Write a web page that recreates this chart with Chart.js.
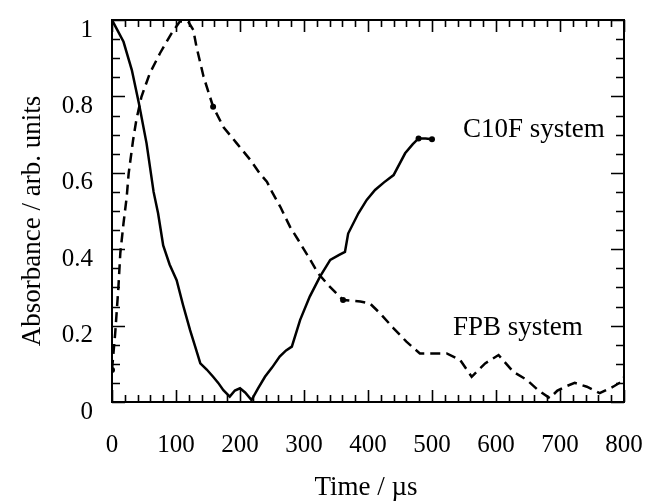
<!DOCTYPE html>
<html>
<head>
<meta charset="utf-8">
<script src="https://cdn.jsdelivr.net/npm/chart.js@4/dist/chart.umd.min.js"></script>
<style>
  html, body { margin: 0; padding: 0; background: #fff; }
  #c { display: block; }
</style>
</head>
<body>
<canvas id="c" width="647" height="501"></canvas>
<script>
// Transient absorbance traces (time in microseconds, absorbance in arbitrary units)
const c10fTime = [0, 8, 18, 31, 42, 54, 65, 72, 80, 90, 101, 111, 122, 130, 138, 148, 158, 166, 174, 184, 192, 200, 208, 218, 228, 239, 250, 262, 272, 281, 294, 309, 325, 341, 355, 364, 369, 385, 398, 411, 425, 440, 458, 470, 479, 490, 500];
const c10fAbs  = [1.0, 0.975, 0.943, 0.869, 0.782, 0.677, 0.55, 0.494, 0.41, 0.36, 0.319, 0.254, 0.188, 0.145, 0.101, 0.085, 0.066, 0.05, 0.031, 0.014, 0.03, 0.036, 0.025, 0.005, 0.035, 0.066, 0.09, 0.119, 0.135, 0.145, 0.215, 0.276, 0.328, 0.372, 0.385, 0.393, 0.441, 0.494, 0.529, 0.555, 0.575, 0.594, 0.651, 0.675, 0.69, 0.69, 0.688];

const fpbTime = [0, 5, 10, 13, 18, 23, 26, 33, 38, 46, 59, 75, 93, 106, 119, 127, 132, 143, 158, 174, 195, 216, 231, 242, 250, 263, 278, 291, 307, 322, 338, 361, 388, 403, 419, 440, 460, 481, 500, 523, 544, 562, 583, 604, 627, 648, 666, 684, 696, 708, 723, 742, 762, 783, 796, 800];
const fpbAbs  = [0.084, 0.18, 0.30, 0.39, 0.468, 0.537, 0.598, 0.686, 0.738, 0.799, 0.86, 0.913, 0.965, 0.996, 0.996, 0.974, 0.93, 0.852, 0.773, 0.72, 0.677, 0.634, 0.598, 0.577, 0.55, 0.511, 0.459, 0.424, 0.38, 0.337, 0.306, 0.267, 0.263, 0.258, 0.232, 0.193, 0.158, 0.127, 0.127, 0.127, 0.11, 0.066, 0.101, 0.123, 0.079, 0.058, 0.031, 0.01, 0.03, 0.04, 0.05, 0.04, 0.023, 0.04, 0.053, 0.065];

// Samples shown with a dot marker
const c10fDots = [44, 46];
const fpbDots = [0, 18, 31];

const xTickLabels = ['0', '100', '200', '300', '400', '500', '600', '700', '800'];
const yTickLabels = ['0', '0.2', '0.4', '0.6', '0.8', '1'];

const seriesNames = ['C10F system', 'FPB system'];
const xTitle = 'Time / \u00b5s';
const yTitle = 'Absorbance / arb. units';

const SERIF = '"Liberation Serif", "DejaVu Serif", serif';

function toPoints(xs, ys) { return xs.map((x, i) => ({ x: x, y: ys[i] })); }

// Keep the plot box fixed: labels may overhang the edges without shrinking it
function noOverhang(s) {
  s.paddingLeft = 0; s.paddingRight = 0; s.paddingTop = 0; s.paddingBottom = 0;
}

// Frame with inward ticks on all four sides, series labels and axis titles
const framePlugin = {
  id: 'frame',
  afterDatasetsDraw(chart) {
    const { ctx, chartArea: a, scales: { x, y } } = chart;
    ctx.save();
    ctx.strokeStyle = '#000';
    ctx.lineWidth = 2;
    ctx.strokeRect(a.left, a.top, a.right - a.left, a.bottom - a.top);
    ctx.lineWidth = 1.6;
    ctx.beginPath();
    for (let v = 0; v <= 800; v += 20) {
      const px = Math.round(x.getPixelForValue(v)) + 0.5;
      const len = v % 100 === 0 ? 12 : 7;
      ctx.moveTo(px, a.bottom); ctx.lineTo(px, a.bottom - len);
      ctx.moveTo(px, a.top); ctx.lineTo(px, a.top + len);
    }
    for (let k = 0; k <= 20; k++) {
      const v = k * 0.05;
      const py = Math.round(y.getPixelForValue(v)) + 0.5;
      const len = k % 4 === 0 ? 13 : 8;
      ctx.moveTo(a.left, py); ctx.lineTo(a.left + len, py);
      ctx.moveTo(a.right, py); ctx.lineTo(a.right - len, py);
    }
    ctx.stroke();
    ctx.restore();
  },
  afterDraw(chart) {
    const { ctx } = chart;
    ctx.save();
    ctx.fillStyle = '#000';
    ctx.font = '27px ' + SERIF;
    ctx.textBaseline = 'middle';
    ctx.textAlign = 'left';
    ctx.fillText(seriesNames[0], 463, 130);
    ctx.fillText(seriesNames[1], 453, 328);
    ctx.textAlign = 'center';
    ctx.fillText(xTitle, 366, 488);
    ctx.translate(33, 221);
    ctx.rotate(-Math.PI / 2);
    ctx.fillText(yTitle, 0, 0);
    ctx.restore();
  }
};

new Chart(document.getElementById('c'), {
  type: 'line',
  data: {
    datasets: [
      {
        label: seriesNames[0],
        data: toPoints(c10fTime, c10fAbs),
        borderColor: '#000',
        borderWidth: 2.5,
        pointRadius: (c) => c10fDots.includes(c.dataIndex) ? 3 : 0,
        pointBackgroundColor: '#000',
        pointBorderWidth: 0,
        tension: 0,
        fill: false
      },
      {
        label: seriesNames[1],
        data: toPoints(fpbTime, fpbAbs),
        borderColor: '#000',
        borderWidth: 2.5,
        borderDash: [10, 6],
        pointRadius: (c) => fpbDots.includes(c.dataIndex) ? 3 : 0,
        pointBackgroundColor: '#000',
        pointBorderWidth: 0,
        tension: 0,
        fill: false
      }
    ]
  },
  options: {
    responsive: false,
    animation: false,
    layout: { padding: { left: 0, right: 23, top: 20, bottom: 0 } },
    plugins: { legend: { display: false }, tooltip: { enabled: false } },
    scales: {
      x: {
        type: 'linear',
        min: 0,
        max: 800,
        grid: { display: false, drawTicks: false },
        border: { display: false },
        ticks: {
          stepSize: 100,
          padding: 28,
          color: '#000',
          font: { family: SERIF, size: 25 },
          callback: (v) => xTickLabels[Math.round(v / 100)]
        },
        afterFit(s) { s.height = 99; noOverhang(s); }
      },
      y: {
        type: 'linear',
        min: 0,
        max: 1,
        grid: { display: false, drawTicks: false },
        border: { display: false },
        ticks: {
          stepSize: 0.2,
          padding: 19,
          labelOffset: 10,
          color: '#000',
          font: { family: SERIF, size: 25 },
          callback: (v) => yTickLabels[Math.round(v / 0.2)]
        },
        afterFit(s) { s.width = 112; noOverhang(s); }
      }
    }
  },
  plugins: [framePlugin]
});
</script>
</body>
</html>
